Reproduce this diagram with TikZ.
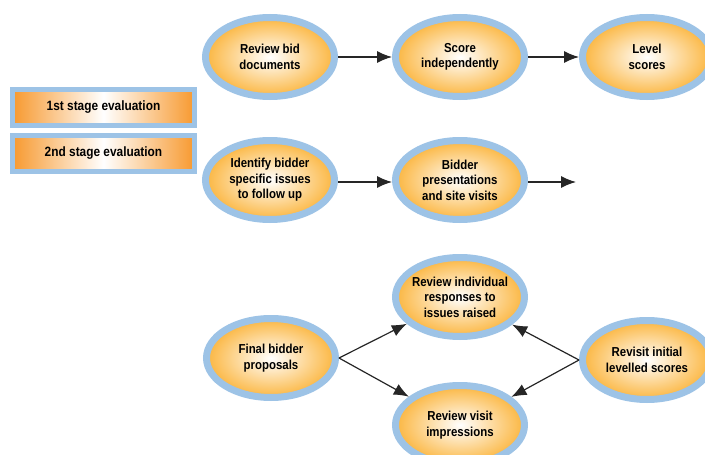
\documentclass[tikz,border=0pt]{standalone}
\usepackage{fontspec}
\setmainfont{Liberation Sans}[FakeStretch=0.88]
\usetikzlibrary{shapes.geometric,arrows.meta}
\definecolor{ringblue}{HTML}{9DC3E6}
\definecolor{ballorange}{HTML}{FBB640}
\definecolor{boxorange}{HTML}{F7992F}
\begin{document}
\begin{tikzpicture}[x=1pt,y=-1pt]

\tikzstyle{vertex}=[ellipse,draw=ringblue,line width=7pt,inner sep=-10pt,
  minimum width=129pt,minimum height=79pt,inner color=white,outer color=ballorange,
  align=center,font=\fontsize{13}{15.5}\selectfont\bfseries]
\tikzstyle{stage box}=[rectangle,draw=ringblue,line width=5pt,minimum width=182pt,
  minimum height=36pt,left color=boxorange,right color=boxorange,middle color=white,
  font=\fontsize{13.5}{15}\selectfont\bfseries]
\tikzstyle{edge}=[-{Latex[length=15pt,width=12pt]},line width=1.2pt,black!85]

\useasboundingbox(0,0)rectangle(705,455);

\node[stage box](s1)at(103.5,107.5){1st stage evaluation};
\node[stage box](s2)at(103.5,153.5){2nd stage evaluation};

% first stage
\node[vertex](v1)at(270,57){Review bid\\documents};
\node[vertex](v2)at(460,57){Score\\independently};
\node[vertex](v3)at(647,57){Level\\scores};

% second stage
\node[vertex](v4)at(270,180){Identify bidder\\specific issues\\to follow up};
\node[vertex](v5)at(460,180){Bidder\\presentations\\and site visits};
\coordinate(c1)at(576,182);

\node[vertex](v6)at(271,358){Final bidder\\proposals};
\node[vertex](v7)at(460,297){Review individual\\responses to\\issues raised};
\node[vertex](v8)at(460,425){Review visit\\impressions};
\node[vertex](v9)at(647,360){Revisit initial\\levelled scores};

\draw[edge](v1)--(v2);
\draw[edge](v2)--(v3);
\draw[edge](v4.east|-c1)--(v5.west|-c1);
\draw[edge](v5.east|-c1)--(c1);

\draw[edge](v6.east)--(v7);
\draw[edge](v6.east)--(v8);
\draw[edge](v9.west)--(v7);
\draw[edge](v9.west)--(v8);

\end{tikzpicture}
\end{document}
